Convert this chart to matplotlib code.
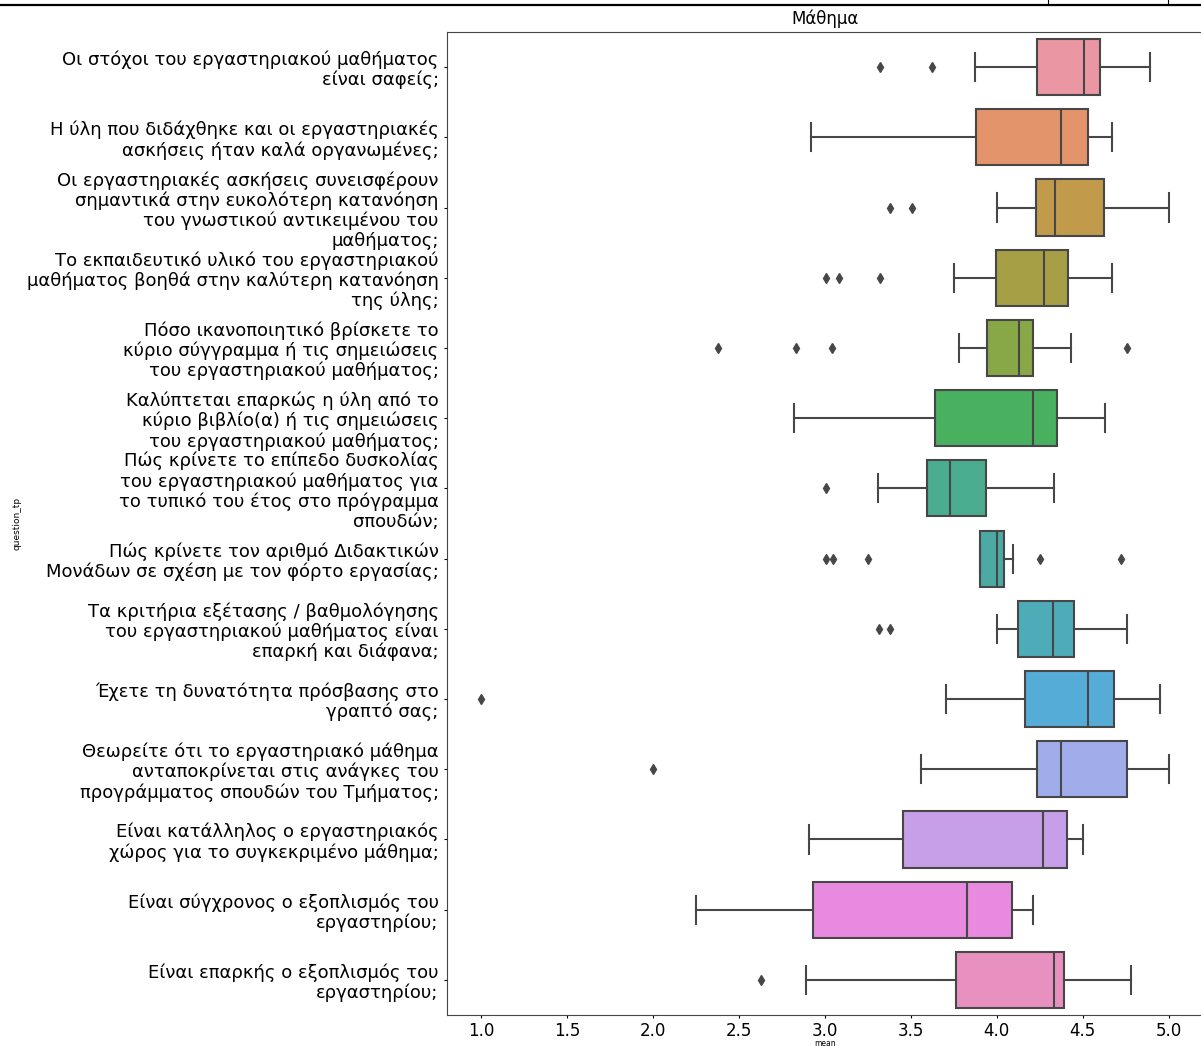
import colorsys
import matplotlib
matplotlib.use("Agg")
import matplotlib.pyplot as plt
import matplotlib.lines as mlines
import seaborn as sns

# ---------------- data: per-question summary of the "mean" scores ----------------
questions = [
    "Οι στόχοι του εργαστηριακού μαθήματος\nείναι σαφείς;",
    "Η ύλη που διδάχθηκε και οι εργαστηριακές\nασκήσεις ήταν καλά οργανωμένες;",
    "Οι εργαστηριακές ασκήσεις συνεισφέρουν\nσημαντικά στην ευκολότερη κατανόηση\nτου γνωστικού αντικειμένου του\nμαθήματος;",
    "Το εκπαιδευτικό υλικό του εργαστηριακού\nμαθήματος βοηθά στην καλύτερη κατανόηση\nτης ύλης;",
    "Πόσο ικανοποιητικό βρίσκετε το\nκύριο σύγγραμμα ή τις σημειώσεις\nτου εργαστηριακού μαθήματος;",
    "Καλύπτεται επαρκώς η ύλη από το\nκύριο βιβλίο(α) ή τις σημειώσεις\nτου εργαστηριακού μαθήματος;",
    "Πώς κρίνετε το επίπεδο δυσκολίας\nτου εργαστηριακού μαθήματος για\nτο τυπικό του έτος στο πρόγραμμα\nσπουδών;",
    "Πώς κρίνετε τον αριθμό Διδακτικών\nΜονάδων σε σχέση με τον φόρτο εργασίας;",
    "Τα κριτήρια εξέτασης / βαθμολόγησης\nτου εργαστηριακού μαθήματος είναι\nεπαρκή και διάφανα;",
    "Έχετε τη δυνατότητα πρόσβασης στο\nγραπτό σας;",
    "Θεωρείτε ότι το εργαστηριακό μάθημα\nανταποκρίνεται στις ανάγκες του\nπρογράμματος σπουδών του Τμήματος;",
    "Είναι κατάλληλος ο εργαστηριακός\nχώρος για το συγκεκριμένο μάθημα;",
    "Είναι σύγχρονος ο εξοπλισμός του\nεργαστηρίου;",
    "Είναι επαρκής ο εξοπλισμός του\nεργαστηρίου;",
]

whis_lo = [3.875, 2.916, 4.000, 3.748, 3.781, 2.818, 3.310, 3.900, 4.000, 3.702, 3.558, 2.906, 2.248, 2.891]
q1      = [4.233, 3.880, 4.227, 3.995, 3.942, 3.643, 3.594, 3.905, 4.123, 4.165, 4.236, 3.452, 2.928, 3.760]
median  = [4.509, 4.375, 4.338, 4.276, 4.127, 4.212, 3.727, 4.000, 4.326, 4.532, 4.376, 4.270, 3.829, 4.332]
q3      = [4.602, 4.528, 4.623, 4.412, 4.212, 4.350, 3.939, 4.043, 4.447, 4.682, 4.755, 4.407, 4.087, 4.390]
whis_hi = [4.891, 4.670, 5.000, 4.670, 4.429, 4.627, 4.334, 4.092, 4.755, 4.952, 5.000, 4.503, 4.212, 4.781]
outliers = [
    [3.319, 3.624],
    [],
    [3.377, 3.504],
    [3.003, 3.083, 3.319],
    [2.378, 2.830, 3.040, 4.757],
    [],
    [3.005],
    [3.005, 3.047, 3.250, 4.252, 4.721],
    [3.316, 3.377],
    [1.000],
    [2.000],
    [],
    [],
    [2.625],
]

# ---------------- colours: husl palette, desaturated like seaborn boxes ----------------
n = len(questions)
pal = [sns.desaturate(c, 0.75) for c in sns.husl_palette(n, l=.7)]
lum = min(colorsys.rgb_to_hls(*c)[1] for c in pal) * 0.6
gray = (lum, lum, lum)

stats = []
for i in range(n):
    stats.append(dict(whislo=whis_lo[i], q1=q1[i], med=median[i], q3=q3[i],
                      whishi=whis_hi[i], fliers=outliers[i]))

W, H = 1201, 1047
fig = plt.figure(figsize=(W / 100, H / 100), dpi=100)
ax = fig.add_axes([447 / W, 32 / H, 756 / W, 983 / H])

lw = 1.5
bp = ax.bxp(stats, positions=range(n), widths=0.8, orientation='horizontal',
            patch_artist=True,
            boxprops=dict(edgecolor=gray, linewidth=lw),
            medianprops=dict(color=gray, linewidth=lw),
            whiskerprops=dict(color=gray, linewidth=lw),
            capprops=dict(color=gray, linewidth=lw),
            flierprops=dict(marker='d', markerfacecolor=gray, markeredgecolor=gray,
                            markersize=5, linestyle='none'))
for patch, c in zip(bp['boxes'], pal):
    patch.set_facecolor(c)
    patch.set_zorder(0.9)

ax.set_ylim(n - 0.5, -0.5)
ax.set_xlim(0.8, 5.2)
ax.set_yticks(range(n))
ax.set_yticklabels(questions, fontsize=13, linespacing=1.12)
ax.set_xticks([1.0, 1.5, 2.0, 2.5, 3.0, 3.5, 4.0, 4.5, 5.0])
ax.set_xticklabels(["1.0", "1.5", "2.0", "2.5", "3.0", "3.5", "4.0", "4.5", "5.0"], fontsize=12)
ax.tick_params(length=2.5, width=0.8)
ax.tick_params(axis='x', pad=2.5)
for sp in ax.spines.values():
    sp.set_color('#444444')
ax.set_xlabel("mean", fontsize=5.5)
ax.xaxis.set_label_coords(0.5, -0.0245)
ax.set_ylabel("question_tp", fontsize=6.5)
ax.set_title("Μάθημα", fontsize=12, pad=6)

# table border across the top of the output cell
fig.add_artist(mlines.Line2D([0, 1], [1 - 5 / H, 1 - 5 / H], color='black', lw=1.6,
                             transform=fig.transFigure))
for xp in (1048, 1168):
    fig.add_artist(mlines.Line2D([xp / W, xp / W], [1 - 5 / H, 1], color='black', lw=0.8,
                                 transform=fig.transFigure))

fig.savefig("out.png", dpi=100)
